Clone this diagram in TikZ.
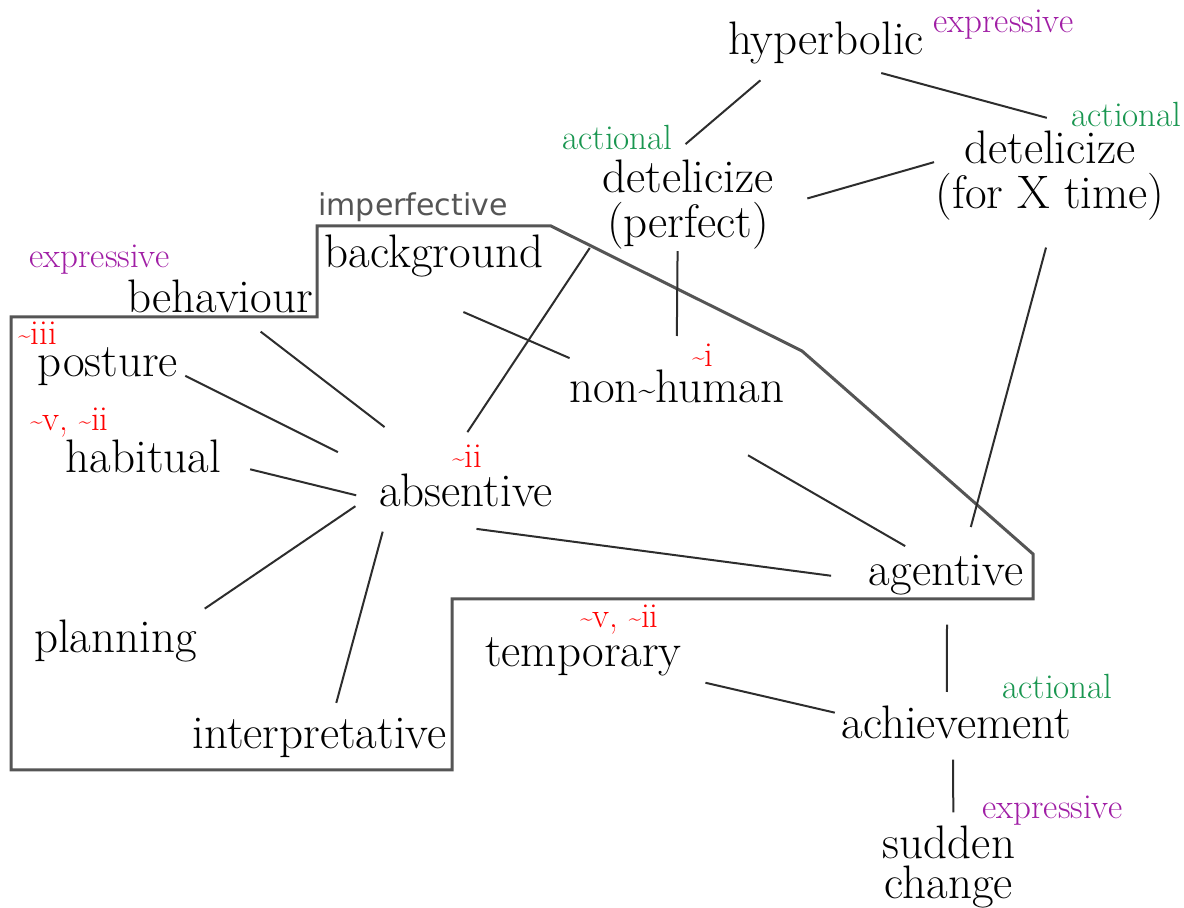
\documentclass[tikz,border=0pt]{standalone}
\usepackage{fontspec}
\usepackage{xcolor}
\usepackage{tikz}

\newfontfamily\tagsans{DejaVu Sans}
\newcommand\wave{\raisebox{1.4pt}{\fontsize{11}{11}\selectfont\textasciitilde}}
\newcommand\bigwave{\raisebox{1.8pt}{\fontsize{15}{15}\selectfont\textasciitilde}}
\definecolor{exprcol}{RGB}{160,30,165}
\definecolor{actcol}{RGB}{25,150,80}
\definecolor{zonecol}{RGB}{85,85,85}
\definecolor{linkcol}{RGB}{45,45,45}

\begin{document}
\begin{tikzpicture}[x=0.5pt, y=-0.5pt,
  word/.style={font=\fontsize{23.5}{22.5}\selectfont, inner sep=0pt, text height=15pt, text depth=4.3pt, anchor=base},
  twoline/.style={font=\fontsize{23.5}{22.5}\selectfont, inner sep=0pt, align=center},
  tag/.style={font=\fontsize{17.5}{19}\selectfont, inner sep=0pt, anchor=base west},
  expr/.style={tag, text=exprcol},
  act/.style={tag, text=actcol},
  num/.style={tag, text=red},
  link/.style={draw=linkcol, line width=1pt},
  zone/.style={draw=zonecol, line width=1.5pt}]
\useasboundingbox (0,0) rectangle (1184,908);

% imperfective zone
\draw[zone] (11,317) -- (317,317) -- (317,226) -- (551,226) -- (802,351) -- (1033,554)
  -- (1033,599) -- (452,599) -- (452,770) -- (11,770) -- cycle;
\node[tag, font=\tagsans\fontsize{15}{17}\selectfont, text=zonecol] (imperf) at (318,216) {imperfective};

% senses
\node[word] (hyp) at (826,55) {hyperbolic};
\node[twoline] (dperf) at (688,205) {detelicize\\(perfect)};
\node[twoline] (dfx) at (1050,176) {detelicize\\(for X time)};
\node[word] (back) at (434,268) {background};
\node[word] (behav) at (220,313) {behaviour};
\node[word] (post) at (108,377) {posture};
\node[word] (habit) at (143.5,473) {habitual};
\node[word] (absent) at (466,507) {absentive};
\node[word] (plan) at (115.5,653) {planning};
\node[word] (interp) at (319.5,748) {interpretative};
\node[word] (nonh) at (676.5,403) {non\bigwave human};
\node[word] (agent) at (946,586) {agentive};
\node[word] (temp) at (583.5,667) {temporary};
\node[word] (achiev) at (956.5,739) {achievement};
\node[twoline, font=\fontsize{23.5}{20}\selectfont] (sudden) at (949,867) {sudden\\change};

% tags
\node[expr] (hyp-tag) at (933,33) {expressive};
\node[act] (dperf-tag) at (562,150) {actional};
\node[act] (dfx-tag) at (1071,127) {actional};
\node[expr] (behav-tag) at (29,268) {expressive};
\node[num] (post-tag) at (18,345) {\wave iii};
\node[num] (habit-tag) at (30,431) {\wave v, \wave ii};
\node[num] (absent-tag) at (452,468) {\wave ii};
\node[num] (nonh-tag) at (692,367) {\wave i};
\node[num] (temp-tag) at (580,628) {\wave v, \wave ii};
\node[act] (achiev-tag) at (1002,699) {actional};
\node[expr] (sudden-tag) at (982,819) {expressive};

% links
\draw[link, shorten <=12.6pt, shorten >=12.2pt] (hyp.203.7) -- (dperf.115.5);
\draw[link, shorten <=17.3pt, shorten >=25pt] (hyp.-42) -- (dfx.45.7);
\draw[link, shorten <=17.3pt, shorten >=0.5pt] (dperf.-2.8) -- (dfx.173.8);
\draw[link, shorten <=13.7pt, shorten >=14.8pt] (dfx.-86) -- (agent.49.2);
\draw[link, shorten <=0.5pt, shorten >=18.3pt] (dperf.-103.4) -- (nonh.north);
\draw[link, shorten <=11pt, shorten >=26.7pt] (dperf.196.8) -- (absent.145.4);
\draw[link, shorten <=44pt, shorten >=18.2pt] (back.201) -- (nonh.165);
\draw[link, shorten <=7.9pt, shorten >=40.6pt] (behav.-35.5) -- (absent.131.3);
\draw[link, shorten <=3.8pt, shorten >=27.4pt] (post.-5.7) -- (absent.166.9);
\draw[link, shorten <=14.7pt, shorten >=11.7pt] (habit.east) -- (absent.183.4);
\draw[link, shorten <=14.2pt, shorten >=12.4pt] (absent.176.7) -- (plan.16.3);
\draw[link, shorten <=8.1pt, shorten >=7.6pt] (absent.194.3) -- (interp.57.2);
\draw[link, shorten <=49.2pt, shorten >=18.9pt] (absent.south west) -- (agent.184.7);
\draw[link, shorten <=43.3pt, shorten >=9.5pt] (nonh.-100.5) -- (agent.141.2);
\draw[link, shorten <=14.8pt, shorten >=8.3pt] (agent.-87) -- (achiev.116.7);
\draw[link, shorten <=15pt, shorten >=3.3pt] (temp.-12) -- (achiev.173.9);
\draw[link, shorten <=5.8pt, shorten >=6.6pt] (achiev.-100.5) -- (sudden.84);
\end{tikzpicture}
\end{document}
